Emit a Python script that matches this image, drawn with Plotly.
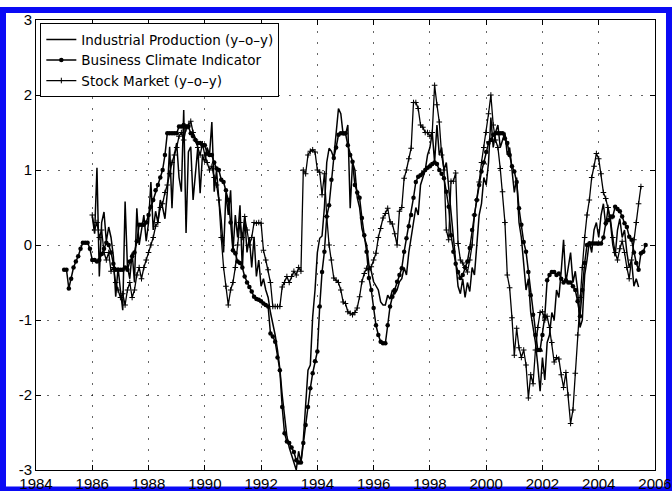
import plotly.graph_objects as go

# ---------------- data (monthly) ----------------
bci_start = 1985.0
bci_values = [
    -0.33, -0.33, -0.58, -0.45, -0.30, -0.22, -0.15, -0.05, 0.03, 0.03, 0.03, -0.05,   # 1985
    -0.20, -0.20, -0.22, -0.20, -0.12, -0.05, 0.03, 0.00, -0.10, -0.25, -0.33, -0.33,  # 1986
    -0.33, -0.33, -0.30, -0.33, -0.22, -0.15, -0.10, 0.05, 0.27, 0.27, 0.27, 0.30,     # 1987
    0.40, 0.51, 0.60, 0.73, 0.80, 0.90, 1.00, 1.20, 1.49, 1.49, 1.49, 1.49,            # 1988
    1.49, 1.58, 1.58, 1.60, 1.58, 1.58, 1.49, 1.45, 1.40, 1.36, 1.36, 1.33,            # 1989
    1.33, 1.22, 1.20, 1.20, 1.10, 1.02, 1.00, 0.87, 0.84, 0.73, 0.60, 0.30,            # 1990
    -0.07, -0.11, -0.22, -0.24, -0.30, -0.42, -0.50, -0.56, -0.62, -0.69, -0.72, -0.73,  # 1991
    -0.75, -0.78, -0.80, -0.82, -1.18, -1.22, -1.29, -1.50, -1.67, -2.16, -2.51, -2.62,  # 1992
    -2.64, -2.70, -2.76, -2.87, -2.90, -2.90, -2.64, -2.40, -2.16, -1.91, -1.71, -1.55,  # 1993
    -1.42, -0.82, -0.36, -0.09, 0.38, 0.53, 0.87, 1.16, 1.30, 1.47, 1.49, 1.49,        # 1994
    1.49, 1.33, 1.20, 1.11, 0.80, 0.70, 0.63, 0.36, 0.13, -0.09, -0.44, -0.60,         # 1995
    -0.84, -1.07, -1.20, -1.29, -1.31, -1.31, -1.07, -0.82, -0.69, -0.60, -0.49, -0.40,  # 1996
    -0.31, -0.09, 0.09, 0.25, 0.40, 0.63, 0.84, 0.91, 0.93, 0.96, 1.00, 1.03,          # 1997
    1.05, 1.08, 1.10, 1.08, 1.00, 0.95, 0.89, 0.71, 0.51, 0.13, -0.09, -0.25,          # 1998
    -0.36, -0.44, -0.40, -0.30, -0.22, -0.04, 0.20, 0.40, 0.60, 0.80, 0.98, 1.10,      # 1999
    1.24, 1.36, 1.40, 1.47, 1.49, 1.49, 1.49, 1.49, 1.42, 1.36, 1.20, 1.05,            # 2000
    0.98, 0.84, 0.49, 0.27, 0.04, -0.09, -0.36, -0.67, -0.93, -1.20, -1.40, -1.40,     # 2001
    -1.20, -0.95, -0.47, -0.40, -0.36, -0.36, -0.40, -0.38, -0.45, -0.50, -0.47, -0.50,  # 2002
    -0.50, -0.55, -0.60, -0.75, -0.95, -0.60, -0.24, 0.00, 0.02, 0.02, 0.02, 0.02,     # 2003
    0.02, 0.02, 0.10, 0.29, 0.33, 0.38, 0.38, 0.51, 0.48, 0.45, 0.38, 0.29,            # 2004
    0.24, 0.11, 0.07, -0.10, -0.24, -0.33, -0.11, -0.09, 0.00,                         # 2005
]

ip_start = 1986.0
ip_values = [
    0.38, 0.15, 1.03, -0.42, 0.30, 0.44, 0.05, 0.24, 0.10, -0.15, -0.69, -0.30,        # 1986
    -0.60, -0.87, 0.58, -0.29, -0.45, -0.10, -0.50, 0.49, 0.00, 0.20, 0.40, 0.05,      # 1987
    0.30, 0.84, 0.20, 0.45, 0.30, 0.60, 0.50, 0.35, 0.70, 1.31, 0.49, 1.20,            # 1988
    1.36, 0.90, 0.71, 1.80, 0.16, 1.24, 1.31, 0.60, 1.00, 1.30, 0.69, 1.20,            # 1989
    1.10, 1.30, 1.20, 1.64, 0.71, 1.00, 0.60, 0.33, -0.10, 0.70, 0.40, 0.73,           # 1990
    -0.10, 0.40, 0.10, 0.53, -0.33, 0.38, -0.10, 0.10, -0.30, 0.11, -0.42, -0.20,      # 1991
    -0.55, -0.45, -0.60, -0.70, -0.90, -1.05, -1.20, -1.40, -1.65, -2.00, -2.30, -2.55,  # 1992
    -2.70, -2.80, -2.91, -3.00, -2.75, -2.90, -2.60, -2.07, -1.67, -1.60, -0.96, -0.60,  # 1993
    -0.10, 0.09, 0.12, 0.50, 1.10, 1.29, 1.25, 1.16, 1.47, 1.82, 1.75, 1.47,           # 1994
    1.47, 1.60, 0.49, 1.10, 1.00, 0.63, 0.50, 0.22, 0.10, 0.00, -0.27, -0.35,          # 1995
    -0.49, -0.55, -0.60, -0.76, -0.80, -0.80, -0.67, -0.72, -0.60, -0.65, -0.60, -0.49,  # 1996
    -0.45, -0.30, -0.40, -0.10, 0.10, 0.30, 0.50, 0.40, 0.80, 0.90, 1.00, 1.20,        # 1997
    1.30, 1.50, 1.10, 1.60, 1.20, 1.30, 1.00, 1.10, 0.75, 0.50, 0.10, -0.30,           # 1998
    -0.55, -0.65, -0.45, -0.70, -0.50, -0.62, -0.30, -0.40, 0.00, 0.40, 0.55, 0.90,    # 1999
    0.80, 1.10, 1.70, 1.30, 1.50, 1.60, 1.30, 1.40, 1.50, 1.20, 1.30, 1.00,            # 2000
    0.70, 0.90, 0.30, 0.10, -0.30, -0.60, -0.45, -0.90, -1.10, -1.30, -1.60, -1.95,    # 2001
    -1.50, -1.80, -1.30, -1.20, -0.90, -1.00, -0.60, -0.70, -0.35, 0.07, -0.50, -0.30,  # 2002
    -0.10, -0.50, -0.35, -0.60, -1.10, -1.00, -0.40, -0.20, 0.05, -0.10, 0.20, 0.30,   # 2003
    0.10, 0.40, 0.55, 0.25, 0.50, 0.30, 0.00, -0.15, 0.20, 0.35, 0.10, 0.20,           # 2004
    -0.10, -0.30, -0.20, -0.55, -0.45, -0.56,                                          # 2005
]

stock_start = 1986.0
stock_values = [
    0.40, 0.20, 0.30, 0.10, 0.20, -0.10, -0.20, -0.10, -0.35, -0.30, -0.50, -0.60,     # 1986
    -0.70, -0.65, -0.80, -0.60, -0.50, -0.70, -0.60, -0.40, -0.30, -0.45, -0.30, -0.20,  # 1987
    -0.10, 0.00, 0.10, 0.25, 0.30, 0.50, 0.55, 0.70, 0.80, 0.95, 1.10, 1.20,           # 1988
    1.30, 1.45, 1.50, 1.40, 1.55, 1.60, 1.65, 1.50, 1.40, 1.30, 1.20, 1.35,            # 1989
    1.20, 1.10, 1.00, 1.05, 0.90, 0.80, 0.60, 0.10, -0.30, -0.55, -0.80, -0.60,        # 1990
    -0.50, -0.30, 0.00, 0.30, 0.10, 0.38, 0.20, 0.00, 0.10, 0.30, 0.29, 0.30,          # 1991
    0.29, -0.07, -0.20, -0.33, -0.50, -0.82, -0.82, -0.82, -0.82, -0.56, -0.50, -0.42,  # 1992
    -0.50, -0.42, -0.35, -0.40, -0.30, -0.35, 1.00, 0.95, 1.20, 1.25, 1.27, 1.24,      # 1993
    1.00, 0.97, 0.67, 0.95, 0.38, 0.00, -0.20, -0.44, -0.47, -0.50, -0.60, -0.76,      # 1994
    -0.78, -0.89, -0.91, -0.93, -0.90, -0.84, -0.69, -0.49, -0.38, -0.31, -0.33, -0.29,  # 1995
    -0.20, -0.11, 0.10, 0.22, 0.36, 0.42, 0.49, 0.31, 0.28, 0.15, 0.00, 0.45,          # 1996
    0.50, 0.89, 1.00, 1.15, 1.29, 1.90, 1.90, 1.82, 1.60, 1.57, 1.50, 1.50,            # 1997
    1.45, 1.50, 2.13, 1.87, 1.64, 1.20, 1.00, 0.20, 0.07, 0.85, 0.85, 0.96,            # 1998
    0.02, -0.20, -0.24, -0.30, -0.36, -0.20, 0.00, 0.40, 0.60, 0.84, 1.10, 1.30,       # 1999
    1.50, 1.75, 2.00, 1.60, 1.40, 1.30, 1.02, 0.71, 0.30, -0.40, -0.57, -0.97,         # 2000
    -1.47, -1.11, -1.37, -1.50, -1.40, -1.60, -2.04, -1.73, -1.85, -1.40, -1.10, -0.90,  # 2001
    -0.89, -1.00, -0.95, -1.10, -1.30, -1.56, -1.50, -1.52, -1.73, -1.90, -1.70, -2.00,  # 2002
    -2.38, -2.20, -1.71, -1.20, -0.70, -0.30, 0.10, 0.40, 0.60, 0.90, 1.05, 1.22,      # 2003
    1.15, 0.95, 0.70, 0.62, 0.50, 0.35, 0.10, -0.10, -0.20, -0.05, 0.05, -0.10,        # 2004
    -0.30, -0.45, -0.20, 0.07, 0.30, 0.55, 0.78,                                       # 2005
]

x_ticks = list(range(1984, 2007, 2))
y_ticks = [-3, -2, -1, 0, 1, 2, 3]
y_tick_labels = ["-3", "-2", "-1", "0", "1", "2", "3"]
labels = ["Industrial Production (y–o–y)", "Business Climate Indicator", "Stock Market (y–o–y)"]


def monthly(start, n):
    return [start + i / 12.0 for i in range(n)]


fig = go.Figure()
fig.add_trace(go.Scatter(
    x=monthly(ip_start, len(ip_values)), y=ip_values, mode="lines", name=labels[0],
    line=dict(color="black", width=1.5)))
fig.add_trace(go.Scatter(
    x=monthly(bci_start, len(bci_values)), y=bci_values, mode="lines+markers", name=labels[1],
    line=dict(color="black", width=1.5),
    marker=dict(symbol="circle", size=4.5, color="black")))
fig.add_trace(go.Scatter(
    x=monthly(stock_start, len(stock_values)), y=stock_values, mode="lines+markers", name=labels[2],
    line=dict(color="black", width=1.3),
    marker=dict(symbol="cross-thin", size=4, line=dict(color="black", width=1))))

tick_font = dict(family="Liberation Sans, Arial, sans-serif", size=15, color="black")
axis_common = dict(
    showline=True, linecolor="black", linewidth=1, mirror="ticks",
    ticks="inside", ticklen=5, tickcolor="black", tickwidth=1,
    showgrid=True, gridcolor="rgba(0,0,0,0.6)", gridwidth=1, griddash="2px,9px",
    zeroline=False, tickfont=tick_font, automargin=False,
)
fig.update_xaxes(range=[1984, 2006], tickvals=x_ticks, ticktext=[str(t) for t in x_ticks], **axis_common)
fig.update_yaxes(range=[-3, 3], tickvals=y_ticks, ticktext=y_tick_labels, **axis_common)

fig.update_layout(
    width=672, height=491,
    margin=dict(l=36, r=17, t=20, b=21, autoexpand=False),
    paper_bgcolor="white", plot_bgcolor="white",
    font=dict(family="Liberation Sans, Arial, sans-serif", size=14, color="black"),
    legend=dict(x=0.007, y=0.993, xanchor="left", yanchor="top",
                bgcolor="white", bordercolor="black", borderwidth=1,
                font=dict(family="DejaVu Sans, sans-serif", size=13.5),
                tracegroupgap=0, itemwidth=30),
    shapes=[dict(type="rect", xref="paper", yref="paper", layer="below",
                 x0=-0.0533, x1=1.0226, y0=-0.0433, y1=1.0222,
                 line=dict(color="#0a0af5", width=6), fillcolor="rgba(0,0,0,0)")],
)

fig.write_html("out.html", config={"displayModeBar": False},
               post_script="document.body.style.margin='0';document.body.style.overflow='hidden';")
